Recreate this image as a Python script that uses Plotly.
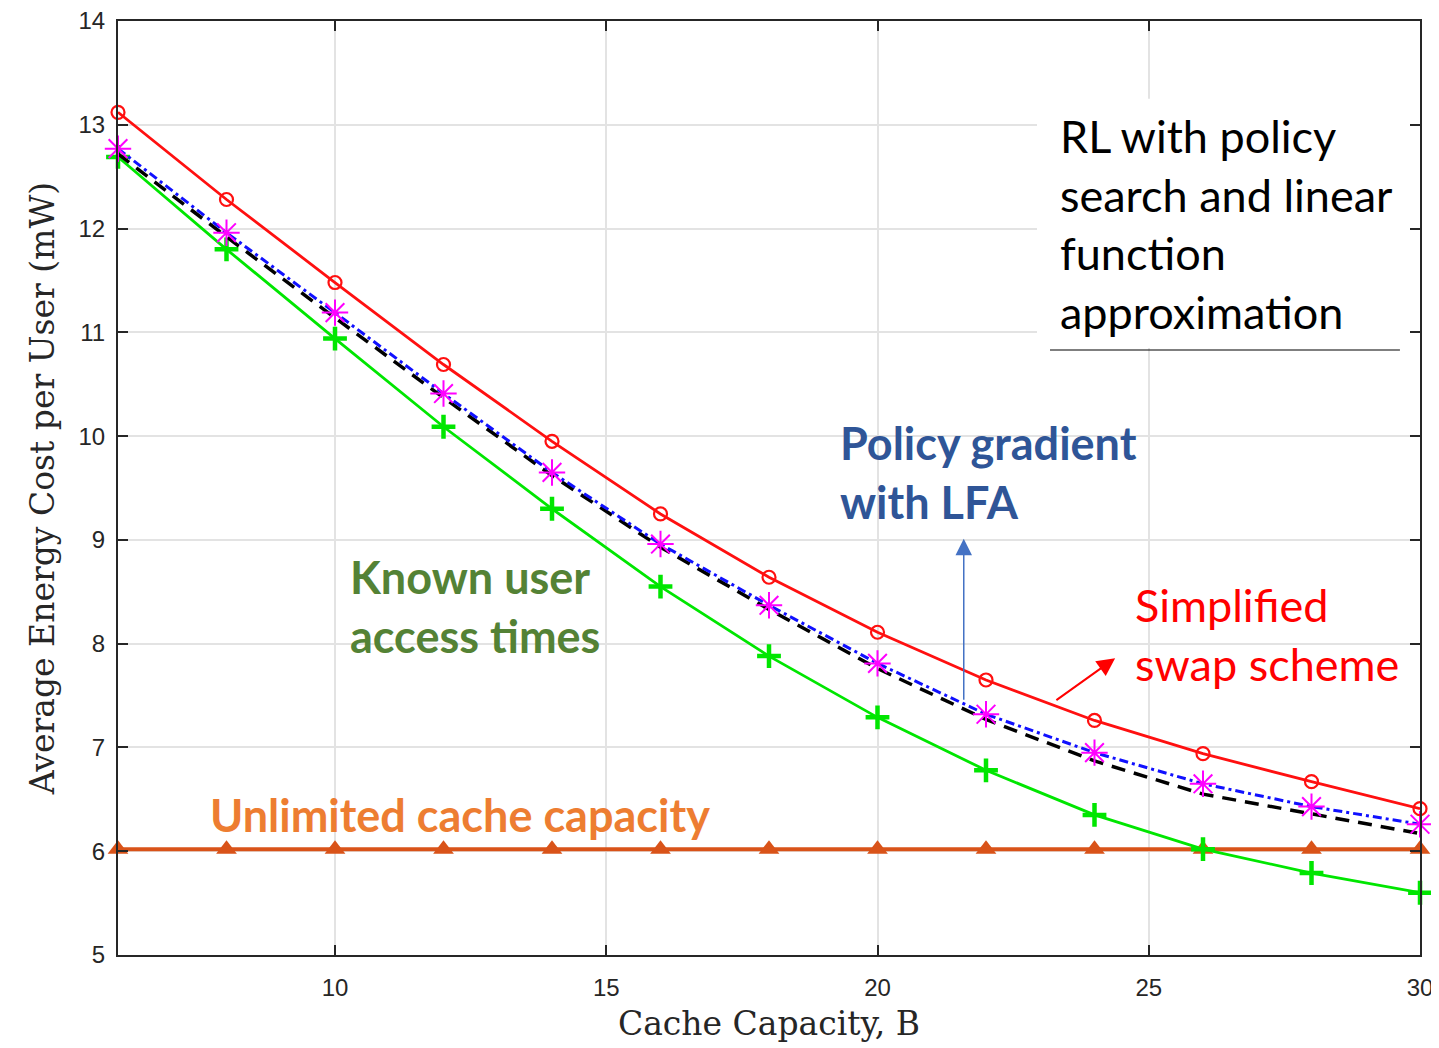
import plotly.graph_objects as go

B = [6, 8, 10, 12, 14, 16, 18, 20, 22, 24, 26, 28, 30]
simplified_swap = [13.12, 12.28, 11.48, 10.69, 9.95, 9.25, 8.64, 8.11, 7.65, 7.26, 6.94, 6.67, 6.41]
policy_gradient = [12.77, 11.96, 11.19, 10.41, 9.65, 8.96, 8.37, 7.81, 7.32, 6.95, 6.65, 6.43, 6.26]
rl_policy_search = [12.72, 11.92, 11.14, 10.37, 9.62, 8.93, 8.33, 7.76, 7.27, 6.87, 6.55, 6.36, 6.17]
known_access = [12.69, 11.80, 10.94, 10.09, 9.30, 8.55, 7.88, 7.29, 6.78, 6.35, 6.02, 5.79, 5.60]
unlimited = [6.02] * 13

x_ticks = [10, 15, 20, 25, 30]
y_ticks = [5, 6, 7, 8, 9, 10, 11, 12, 13, 14]

fig = go.Figure()

fig.add_trace(go.Scatter(x=B, y=unlimited, mode="lines+markers",
                         line=dict(color="#D95319", width=4),
                         marker=dict(symbol="triangle-up", size=18, color="#D95319"),
                         cliponaxis=False, showlegend=False))
fig.add_trace(go.Scatter(x=B, y=known_access, mode="lines+markers",
                         line=dict(color="#00E600", width=2.8),
                         marker=dict(symbol="cross-thin-open", size=17, color="#00E600",
                                     line=dict(color="#00E600", width=4.5)),
                         cliponaxis=False, showlegend=False))
fig.add_trace(go.Scatter(x=B, y=rl_policy_search, mode="lines",
                         line=dict(color="black", width=3.5, dash="14px,9px"),
                         cliponaxis=False, showlegend=False))
fig.add_trace(go.Scatter(x=B, y=policy_gradient, mode="lines+markers",
                         line=dict(color="#1010FF", width=3, dash="9px,4px,3px,4px"),
                         marker=dict(symbol="asterisk-open", size=22, color="#FF00FF",
                                     line=dict(color="#FF00FF", width=2)),
                         cliponaxis=False, showlegend=False))
fig.add_trace(go.Scatter(x=B, y=simplified_swap, mode="lines+markers",
                         line=dict(color="#FF1010", width=2.8),
                         marker=dict(symbol="circle-open", size=13, color="#FF1010",
                                     line=dict(color="#FF1010", width=2.2)),
                         cliponaxis=False, showlegend=False))

# White box behind the RL label
fig.add_shape(type="rect", xref="x", yref="y", x0=22.94, x1=29.9, y0=10.85, y1=13.25,
              fillcolor="white", line=dict(width=0), layer="between")
fig.add_shape(type="line", xref="x", yref="y", x0=23.18, x1=29.63, y0=10.83, y1=10.83,
              line=dict(color="black", width=1.2), layer="above")

label_font = "Lato, Carlito, Calibri, 'Open Sans', sans-serif"
fs = 45

fig.add_annotation(x=23.33, y=12.04, xref="x", yref="y", xanchor="left", yanchor="middle",
                   align="left", showarrow=False,
                   text="RL with policy<br>search and linear<br>function<br>approximation",
                   font=dict(family=label_font, size=fs, color="black"))
fig.add_annotation(x=19.27, y=9.65, xref="x", yref="y", xanchor="left", yanchor="middle",
                   align="left", showarrow=False,
                   text="<b>Policy gradient</b><br><b>with LFA</b>",
                   font=dict(family=label_font, size=fs, color="#2F5597"))
fig.add_annotation(x=10.24, y=8.36, xref="x", yref="y", xanchor="left", yanchor="middle",
                   align="left", showarrow=False,
                   text="<b>Known user</b><br><b>access times</b>",
                   font=dict(family=label_font, size=fs, color="#548235"))
fig.add_annotation(x=24.71, y=8.09, xref="x", yref="y", xanchor="left", yanchor="middle",
                   align="left", showarrow=False,
                   text="Simplified<br>swap scheme",
                   font=dict(family=label_font, size=fs, color="#FF0000"))
fig.add_annotation(x=7.66, y=6.35, xref="x", yref="y", xanchor="left", yanchor="middle",
                   align="left", showarrow=False,
                   text="<b>Unlimited cache capacity</b>",
                   font=dict(family=label_font, size=fs, color="#ED7D31"))

# Arrows
fig.add_annotation(x=21.59, y=9.01, ax=21.59, ay=7.445, xref="x", yref="y",
                   axref="x", ayref="y", text="", showarrow=True,
                   arrowhead=2, arrowsize=2.2, arrowwidth=1.5, arrowcolor="#4472C4")
fig.add_annotation(x=24.38, y=7.86, ax=23.27, ay=7.445, xref="x", yref="y",
                   axref="x", ayref="y", text="", showarrow=True,
                   arrowhead=2, arrowsize=1.8, arrowwidth=2, arrowcolor="#FF0000")

axis_common = dict(showline=True, linecolor="#262626", linewidth=2, mirror="ticks",
                   ticks="inside", ticklen=10, tickwidth=2, tickcolor="#262626",
                   showgrid=True, gridcolor="#E3E3E3", gridwidth=1.5, zeroline=False,
                   automargin=False, ticklabeloverflow="allow",
                   tickfont=dict(family="Liberation Sans, Arial, sans-serif", size=24, color="#262626"))

fig.update_xaxes(range=[6, 30], tickvals=x_ticks, ticktext=[str(v) for v in x_ticks],
                 ticklabelstandoff=10,
                 title=dict(text="Cache Capacity, B", standoff=12,
                            font=dict(family="DejaVu Serif, Liberation Serif, serif", size=33, color="#262626")),
                 **axis_common)
fig.update_yaxes(range=[5, 14], tickvals=y_ticks, ticktext=[str(v) for v in y_ticks],
                 ticklabelstandoff=6,
                 title=dict(text="Average Energy Cost per User (mW)", standoff=14,
                            font=dict(family="DejaVu Serif, Liberation Serif, serif", size=33, color="#262626")),
                 **axis_common)

fig.update_layout(width=1431, height=1040, margin=dict(l=110, r=19, t=13, b=93),
                  plot_bgcolor="white", paper_bgcolor="white", showlegend=False)

fig.write_html("out.html")
